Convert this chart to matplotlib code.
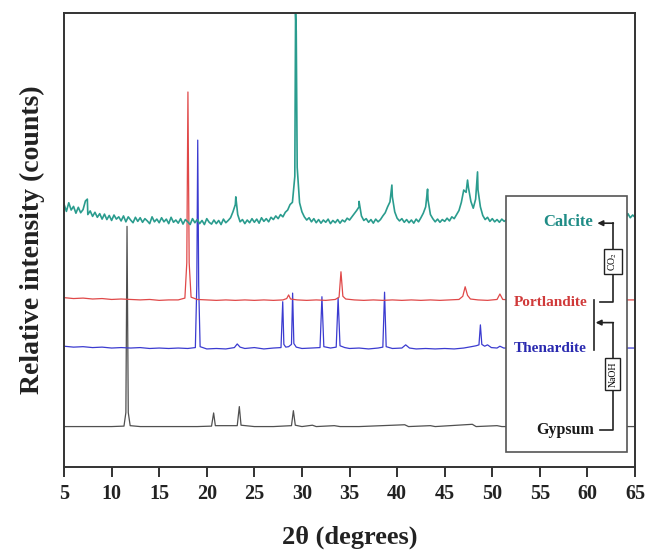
import numpy as np
import matplotlib
matplotlib.use('Agg')
import matplotlib.pyplot as plt
from matplotlib.patches import Rectangle

plt.rcParams['font.family'] = ['Liberation Serif', 'DejaVu Serif']
plt.rcParams['mathtext.fontset'] = 'stix'

# ---- data (offset traces in arbitrary counts) ----
calcite_start, calcite_step = 5.0, 0.25
calcite_y = [
    57.9, 56.3, 58.2, 56.6, 57.4, 55.9, 57.2, 56.0,   # 5-7
    56.7, 58.6, 55.6, 56.4, 55.2, 56.1, 55.0, 55.8,   # 7-9
    54.6, 55.7, 54.5, 55.4, 54.3, 55.5, 54.6, 55.1,   # 9-11
    54.2, 55.3, 54.0, 55.1, 54.4, 53.8, 55.0, 54.1,   # 11-13
    54.9, 53.9, 54.7, 54.2, 53.6, 55.1, 54.0, 54.6,   # 13-15
    53.8, 54.9, 54.0, 54.6, 53.6, 55.0, 53.9, 54.4,   # 15-17
    53.7, 54.7, 53.5, 54.5, 54.0, 53.4, 54.7, 53.8,   # 17-19
    54.5, 53.6, 54.3, 53.4, 54.7, 53.9, 53.5, 54.4,   # 19-21
    53.6, 54.3, 53.4, 54.6, 53.8, 54.3, 54.9, 56.2,   # 21-23
    57.8, 55.6, 54.0, 54.5, 53.6, 54.4, 53.8, 54.7,   # 23-25
    53.9, 54.6, 53.7, 54.9, 54.1, 54.7, 54.0, 55.0,   # 25-27
    54.5, 55.3, 54.7, 55.6, 55.1, 56.1, 56.6, 57.8,   # 27-29
    58.3, 64.0, 66.0, 58.2, 56.2, 55.1, 54.4, 54.9,   # 29-31
    54.0, 54.7, 53.8, 54.5, 53.7, 54.4, 53.9, 54.6,   # 31-33
    53.6, 54.3, 53.8, 54.5, 53.7, 54.4, 54.0, 54.8,   # 33-35
    54.4, 55.1, 55.8, 56.5, 57.3, 55.3, 54.3, 54.7,   # 35-37
    53.9, 54.5, 53.7, 54.6, 54.0, 54.5, 55.3, 56.0,   # 37-39
    57.3, 58.4, 59.5, 56.2, 54.8, 54.2, 54.7, 53.9,   # 39-41
    54.5, 53.8, 54.4, 53.7, 54.6, 54.0, 54.9, 55.9,   # 41-43
    57.3, 58.8, 55.6, 54.7, 54.0, 54.6, 53.9, 54.5,   # 43-45
    54.1, 54.8, 54.2, 55.1, 54.7, 55.6, 56.5, 58.3,   # 45-47
    61.0, 60.5, 61.5, 58.5, 57.0, 59.0, 61.0, 57.3,   # 47-49
    55.4, 54.5, 55.0, 54.1, 54.7, 54.0, 54.5, 53.9,   # 49-51
    54.6, 54.1, 54.5, 53.9, 54.4, 54.0, 54.5, 54.1,   # 51-53
    54.4, 53.9, 54.6, 54.0, 54.5, 54.1, 54.4, 53.8,   # 53-55
    54.5, 54.0, 54.3, 53.8, 54.7, 54.1, 54.4, 53.9,   # 55-57
    54.3, 53.8, 54.6, 54.0, 54.4, 53.9, 54.5, 54.1,   # 57-59
    54.4, 54.0, 54.7, 54.1, 54.3, 53.8, 54.5, 54.0,   # 59-61
    54.6, 54.1, 54.4, 53.9, 54.5, 54.0, 54.8, 54.2,   # 61-63
    54.5, 55.1, 54.3, 55.4, 54.7, 55.8, 54.9, 55.5,   # 63-65
    55.0,
]
calcite_peak_x = [7.45, 23.05, 29.33, 29.4, 36.0, 39.45, 43.2, 47.4, 48.45]
calcite_peak_y = [59.0, 59.5, 99.8, 96.0, 58.5, 62.1, 61.2, 63.2, 65.0]

portlandite = [
    (5, 37.3), (6, 37.1), (7, 37.2), (8, 37.0), (9, 37.1), (10, 36.9), (11, 37.0),
    (12, 36.9), (13, 36.8), (14, 36.9), (15, 36.7), (16, 36.8), (17, 36.8),
    (17.7, 37.2), (17.9, 45.0), (18.02, 82.6), (18.15, 45.0), (18.35, 37.4),
    (19, 36.9), (20, 36.8), (21, 36.7), (22, 36.8), (23, 36.7), (24, 36.8),
    (25, 36.7), (26, 36.8), (27, 36.7), (28, 36.8), (28.4, 37.1), (28.6, 37.9),
    (28.8, 37.0), (29.5, 36.8), (30.5, 36.7), (31.5, 36.8), (32.5, 36.7),
    (33.5, 36.9), (33.9, 37.4), (34.1, 43.0), (34.3, 37.6), (34.6, 37.0),
    (35.5, 36.8), (36.5, 36.7), (37.5, 36.8), (38.5, 36.7), (39.5, 36.8),
    (40.5, 36.7), (41.5, 36.8), (42.5, 36.7), (43.5, 36.8), (44.5, 36.7),
    (45.5, 36.8), (46.5, 36.9), (46.9, 37.6), (47.15, 39.7), (47.4, 37.8),
    (47.7, 37.0), (48.5, 36.8), (49.5, 36.7), (50.5, 36.9), (50.8, 38.1),
    (51.1, 36.9), (52, 36.8), (58, 36.8), (65, 36.8),
]

thenardite = [
    (5, 26.6), (6, 26.4), (7, 26.5), (8, 26.3), (9, 26.4), (10, 26.2), (11, 26.3),
    (12, 26.2), (13, 26.3), (14, 26.1), (15, 26.2), (16, 26.1), (17, 26.2),
    (18, 26.1), (18.8, 26.3), (18.95, 40.0), (19.05, 72.0), (19.15, 40.0),
    (19.3, 26.5), (20, 26.0), (21, 26.1), (22, 26.0), (22.9, 26.3), (23.2, 27.1),
    (23.5, 26.4), (24, 26.1), (25, 26.3), (26, 26.0), (27, 26.2), (27.8, 26.3),
    (27.98, 36.4), (28.1, 27.0), (28.3, 26.4), (28.6, 26.5), (28.9, 27.0),
    (29.02, 38.3), (29.15, 27.2), (29.4, 26.4), (30, 26.1), (31, 26.2),
    (31.9, 26.3), (32.1, 37.5), (32.3, 26.5), (33, 26.2), (33.6, 26.4),
    (33.8, 37.2), (34.0, 26.7), (34.5, 26.3), (35, 26.1), (36, 26.2), (37, 26.0),
    (38, 26.2), (38.5, 26.4), (38.68, 38.5), (38.85, 26.5), (39.5, 26.1),
    (40.5, 26.2), (40.9, 26.9), (41.3, 26.2), (42, 26.0), (43, 26.1), (44, 26.0),
    (45, 26.1), (46, 26.0), (47, 26.2), (47.8, 26.5), (48.3, 26.7), (48.6, 26.9),
    (48.75, 31.3), (48.9, 27.0), (49.2, 26.6), (49.5, 26.9), (49.9, 26.3),
    (50.5, 26.2), (50.8, 26.6), (51.2, 26.2), (55, 26.2), (60, 26.2), (65, 26.2),
]

gypsum = [
    (5, 8.9), (8, 8.9), (10, 8.9), (11.3, 9.0), (11.5, 12.0), (11.62, 53.0),
    (11.75, 12.0), (11.95, 9.1), (13, 8.9), (15, 8.9), (17, 8.9), (19, 8.9),
    (20.5, 9.0), (20.72, 11.9), (20.9, 9.1), (23.2, 9.1), (23.42, 13.3),
    (23.6, 9.2), (25, 8.9), (27, 8.9), (28.9, 9.1), (29.1, 12.4), (29.3, 9.2),
    (30, 8.9), (31.1, 9.2), (31.5, 8.9), (33.4, 9.1), (34, 8.9), (36, 8.9),
    (40.8, 9.3), (41.2, 8.9), (43.5, 9.1), (44, 8.9), (47.9, 9.4), (48.3, 8.9),
    (50.5, 9.1), (51, 8.9), (65, 8.9),
]

xticks = list(range(5, 70, 5))

# ---- calcite: grid + peak apices merged ----
cx = calcite_start + calcite_step * np.arange(len(calcite_y))
cx = np.concatenate([cx, calcite_peak_x])
cy = np.concatenate([calcite_y, calcite_peak_y])
order = np.argsort(cx, kind='stable')
cx, cy = cx[order], cy[order]

fig = plt.figure(figsize=(6.48, 5.51), dpi=100)
ax = fig.add_axes([0.0988, 0.1525, 0.8812, 0.8239])

ax.plot(*zip(*gypsum), color='#505050', lw=0.9)
ax.plot(*zip(*thenardite), color='#3b3bd0', lw=0.9)
ax.plot(*zip(*portlandite), color='#e04848', lw=0.9)
ax.plot(cx, cy, color='#2a9c8e', lw=1.2)

ax.set_xlim(5, 65)
ax.set_ylim(0, 100)
ax.set_xticks(xticks)
ax.set_yticks([])
for s in ax.spines.values():
    s.set_linewidth(1.4)
    s.set_color('#333333')
ax.tick_params(axis='x', direction='out', length=7, width=1.3, pad=5,
               labelsize=14.5, colors='#222222')
for lab in ax.get_xticklabels():
    lab.set_fontweight('bold')
ax.set_xlabel('2θ (degrees)', fontsize=19, fontweight='bold', labelpad=16,
              color='#222222')
ax.set_ylabel('Relative intensity (counts)', fontsize=20, fontweight='bold',
              labelpad=14, color='#222222')

# ---- reaction scheme box ----
T = ax.transAxes
ax.add_patch(Rectangle((0.774, 0.033), 0.212, 0.564, transform=T, fc='white',
                       ec='#555555', lw=1.2, zorder=5))
lab_kw = dict(transform=T, ha='right', va='center', fontweight='bold', zorder=6)
ax.text(0.926, 0.540, 'Calcite', color='#1f8c86', fontsize=12, **lab_kw)
ax.text(0.916, 0.363, 'Portlandite', color='#d03a3a', fontsize=11, **lab_kw)
ax.text(0.916, 0.260, 'Thenardite', color='#2a2ab0', fontsize=11, **lab_kw)
ax.text(0.928, 0.0815, 'Gypsum', color='#1a1a1a', fontsize=11.5, **lab_kw)

ln = dict(transform=T, color='#222222', lw=1.2, zorder=6)
xv = 0.961
# Portlandite -> Calcite
ax.plot([0.939, xv, xv], [0.363, 0.363, 0.537], **ln)
ax.annotate('', xy=(0.934, 0.537), xytext=(xv + 0.001, 0.537), xycoords=T,
            arrowprops=dict(arrowstyle='-|>', color='#222222', lw=1.2,
                            mutation_scale=8, shrinkA=0, shrinkB=0), zorder=6)
# bracket
ax.plot([0.928, 0.928], [0.368, 0.258], **ln)
# Gypsum -> bracket
ax.plot([0.939, xv, xv], [0.0815, 0.0815, 0.318], **ln)
ax.annotate('', xy=(0.931, 0.318), xytext=(xv + 0.001, 0.318), xycoords=T,
            arrowprops=dict(arrowstyle='-|>', color='#222222', lw=1.2,
                            mutation_scale=8, shrinkA=0, shrinkB=0), zorder=6)
box_kw = dict(transform=T, ha='center', va='center', rotation=90, fontsize=7,
              zorder=7, bbox=dict(boxstyle='square,pad=0.3', fc='white',
                                  ec='#222222', lw=1.0))
ax.text(xv, 0.452, 'CO$_2$', **box_kw)
ax.text(xv, 0.205, 'NaOH', **box_kw)

fig.savefig('out.png', dpi=100)
